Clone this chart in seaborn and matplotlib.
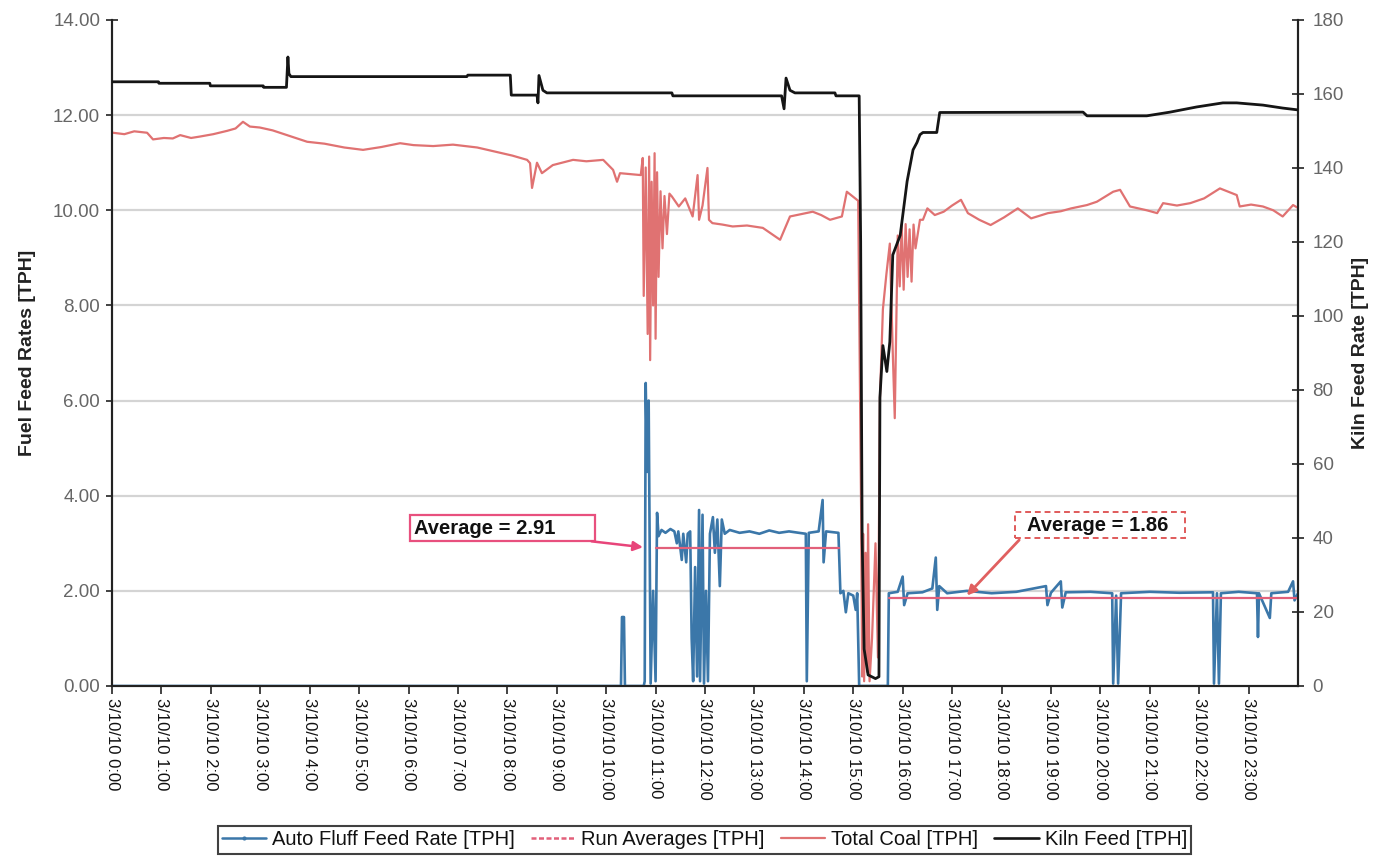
import matplotlib
matplotlib.use("Agg")
import matplotlib.pyplot as plt
from matplotlib.lines import Line2D
from matplotlib.patches import Rectangle
import seaborn as sns
import pandas as pd

# ---- data (hours after midnight, 3/10/10) ----
hours = list(range(24))
tick_labels = [f"3/10/10 {h}:00" for h in hours]

# Kiln feed, right axis [TPH]
kiln_t = [0.0, 0.94, 0.95, 1.98, 1.99, 3.06, 3.07, 3.53, 3.56, 3.58, 3.62, 7.18, 7.2,
          8.06, 8.08, 8.6, 8.62, 8.64, 8.72, 8.8, 11.33, 11.35, 13.55, 13.6, 13.64,
          13.72, 13.82, 14.63, 14.65, 15.12, 15.15, 15.18, 15.22, 15.3, 15.45, 15.52,
          15.54, 15.6, 15.68, 15.74, 15.8, 15.95, 16.09, 16.21, 16.29, 16.35, 16.41,
          16.69, 16.75, 19.65, 19.73, 20.94, 21.41, 21.95, 22.48, 22.76, 23.29, 23.69, 24.0]
kiln_v = [163.3, 163.3, 162.9, 162.9, 162.2, 162.2, 161.8, 161.8, 170.0, 165.5, 164.7,
          164.7, 165.1, 165.1, 159.7, 159.7, 157.6, 165.0, 161.0, 160.3, 160.3, 159.5,
          159.5, 156.0, 164.3, 161.0, 160.3, 160.3, 159.5, 159.5, 120.0, 40.0, 10.0,
          3.0, 2.0, 2.5, 78.0, 92.0, 85.0, 93.0, 116.5, 121.8, 136.4, 144.9, 146.9,
          149.0, 149.6, 149.6, 155.0, 155.1, 154.1, 154.1, 155.1, 156.5, 157.6, 157.6,
          157.0, 156.2, 155.7]

# Total coal, left axis [TPH]
coal_t = [0.02, 0.25, 0.45, 0.71, 0.83, 1.05, 1.23, 1.38, 1.6, 1.78, 2.05, 2.33, 2.5,
          2.65, 2.79, 2.99, 3.25, 3.54, 3.95, 4.3, 4.7, 5.08, 5.45, 5.83, 6.1, 6.5,
          6.9, 7.39, 7.85, 8.1, 8.4, 8.46, 8.5, 8.6, 8.7, 8.92, 9.33, 9.6, 9.94, 10.14,
          10.22, 10.28, 10.7, 10.74, 10.76, 10.8, 10.84, 10.87, 10.89, 10.92, 10.95,
          10.98, 11.0, 11.03, 11.06, 11.1, 11.14, 11.18, 11.23, 11.28, 11.33, 11.47,
          11.6, 11.75, 11.85, 11.88, 11.95, 12.05, 12.08, 12.15, 12.35, 12.56, 12.85,
          13.17, 13.52, 13.72, 13.95, 14.18, 14.35, 14.53, 14.77, 14.87, 14.99, 15.1,
          15.16, 15.18, 15.2, 15.22, 15.25, 15.28, 15.3, 15.33, 15.38, 15.45, 15.5,
          15.54, 15.6, 15.67, 15.74, 15.8, 15.84, 15.88, 15.9, 15.94, 15.98, 16.02,
          16.06, 16.1, 16.14, 16.18, 16.22, 16.26, 16.35, 16.41, 16.5, 16.65, 16.83,
          17.0, 17.18, 17.32, 17.55, 17.78, 18.05, 18.33, 18.6, 18.94, 19.2, 19.41,
          19.73, 19.93, 20.26, 20.4, 20.6, 20.94, 21.15, 21.27, 21.55, 21.82, 22.1,
          22.42, 22.76, 22.82, 23.05, 23.29, 23.5, 23.69, 23.9, 24.0]
coal_v = [11.63, 11.6, 11.66, 11.63, 11.49, 11.52, 11.51, 11.58, 11.52, 11.55, 11.6,
          11.67, 11.72, 11.86, 11.76, 11.74, 11.68, 11.58, 11.44, 11.4, 11.32, 11.27,
          11.33, 11.41, 11.37, 11.35, 11.38, 11.32, 11.21, 11.15, 11.06, 10.99, 10.47,
          11.0, 10.78, 10.95, 11.06, 11.03, 11.06, 10.85, 10.6, 10.78, 10.74, 11.1, 8.2,
          10.9, 7.4, 11.13, 6.85, 10.6, 8.0, 11.2, 7.3, 10.8, 8.6, 10.4, 9.2, 10.3, 9.5,
          10.35, 10.29, 10.08, 10.25, 9.87, 10.74, 9.8, 10.1, 10.89, 9.8, 9.73, 9.7,
          9.66, 9.68, 9.63, 9.38, 9.87, 9.92, 9.97, 9.9, 9.8, 9.87, 10.39, 10.29, 10.2,
          3.6, 0.2, 3.2, 0.1, 2.8, 0.3, 3.4, 0.1, 1.0, 3.0, 0.6, 6.04, 7.92, 8.65, 9.3,
          7.0, 5.63, 8.2, 9.47, 8.4, 9.7, 8.33, 9.71, 8.6, 9.6, 8.5, 9.7, 9.2, 9.8, 9.8,
          10.04, 9.9, 9.97, 10.1, 10.22, 9.94, 9.8, 9.69, 9.85, 10.04, 9.83, 9.94, 9.98,
          10.04, 10.11, 10.18, 10.39, 10.43, 10.08, 10.0, 9.94, 10.15, 10.1, 10.15,
          10.25, 10.46, 10.32, 10.08, 10.12, 10.08, 10.0, 9.87, 10.11, 10.05]

# Auto fluff feed rate, left axis [TPH]
fluff_t = [0.0, 10.3, 10.32, 10.36, 10.38, 10.76, 10.78, 10.8, 10.83, 10.86, 10.9,
           10.95, 11.0, 11.03, 11.06, 11.12, 11.2, 11.3, 11.38, 11.43, 11.46, 11.53,
           11.56, 11.62, 11.65, 11.7, 11.73, 11.76, 11.8, 11.84, 11.88, 11.9, 11.95,
           11.98, 12.02, 12.06, 12.1, 12.16, 12.2, 12.25, 12.3, 12.34, 12.4, 12.5, 12.7,
           12.9, 13.1, 13.3, 13.5, 13.7, 13.9, 14.04, 14.06, 14.1, 14.3, 14.38, 14.4,
           14.45, 14.7, 14.74, 14.8, 14.85, 14.9, 15.0, 15.05, 15.08, 15.12, 15.7, 15.72,
           15.9, 16.0, 16.03, 16.1, 16.4, 16.6, 16.67, 16.7, 16.74, 16.9, 17.3, 17.8,
           18.3, 18.9, 18.93, 19.0, 19.2, 19.23, 19.3, 19.8, 20.24, 20.26, 20.32, 20.36,
           20.42, 21.0, 21.6, 22.28, 22.3, 22.36, 22.4, 22.44, 22.8, 23.17, 23.19, 23.21,
           23.43, 23.46, 23.8, 23.9, 23.93, 24.0]
fluff_v = [0.0, 0.0, 1.45, 1.45, 0.0, 0.0, 0.1, 6.37, 4.5, 6.0, 0.05, 2.0, 0.1, 3.64,
           3.15, 3.28, 3.22, 3.3, 3.25, 3.0, 3.25, 2.65, 3.2, 2.6, 3.2, 3.25, 1.0, 0.1,
           2.5, 0.2, 3.7, 0.1, 3.6, 0.05, 2.0, 0.1, 3.2, 3.55, 2.8, 3.5, 2.1, 3.5, 3.2,
           3.28, 3.22, 3.25, 3.2, 3.27, 3.22, 3.25, 3.22, 3.2, 0.1, 3.22, 3.25, 3.91, 2.6,
           3.25, 3.22, 1.95, 2.0, 1.55, 1.95, 1.9, 1.6, 1.95, 0.0, 0.0, 1.95, 1.98, 2.3,
           1.7, 1.95, 1.97, 2.05, 2.7, 1.6, 2.1, 1.95, 2.0, 1.95, 1.98, 2.1, 1.7, 1.96,
           2.2, 1.65, 1.97, 1.98, 1.95, 0.05, 1.9, 0.05, 1.95, 1.98, 1.96, 1.97, 0.05,
           1.95, 0.05, 1.95, 1.98, 1.95, 1.03, 1.95, 1.43, 1.95, 1.98, 2.2, 1.8, 1.95]

# Run averages [TPH]
run1_t = [11.0, 14.72]
run1_avg = 2.91
run2_t = [15.72, 24.0]
run2_avg = 1.86

# ---- styling ----
C_FLUFF = "#3b77a9"
C_RUN = "#e2607a"
C_COAL = "#e07272"
C_KILN = "#151515"
FONT = ["Liberation Sans", "DejaVu Sans"]

sns.set_theme(style="white")
plt.rcParams["font.family"] = FONT

fig = plt.figure(figsize=(13.92, 8.58), dpi=100)
ax = fig.add_axes([112 / 1392, 172 / 858, 1186 / 1392, 666 / 858])
ax2 = ax.twinx()

df_fluff = pd.DataFrame({"t": fluff_t, "v": fluff_v})
df_coal = pd.DataFrame({"t": coal_t, "v": coal_v})
df_kiln = pd.DataFrame({"t": kiln_t, "v": kiln_v})
df_run1 = pd.DataFrame({"t": run1_t, "v": [run1_avg] * len(run1_t)})
df_run2 = pd.DataFrame({"t": run2_t, "v": [run2_avg] * len(run2_t)})

sns.lineplot(data=df_coal, x="t", y="v", ax=ax, color=C_COAL, lw=1.6,
             estimator=None, sort=False, zorder=3)
sns.lineplot(data=df_fluff, x="t", y="v", ax=ax, color=C_FLUFF, lw=1.9,
             estimator=None, sort=False, zorder=4)
for d in (df_run1, df_run2):
    sns.lineplot(data=d, x="t", y="v", ax=ax, color=C_RUN, lw=1.6,
                 estimator=None, sort=False, zorder=5)
sns.lineplot(data=df_kiln, x="t", y="v", ax=ax2, color=C_KILN, lw=2.0,
             estimator=None, sort=False, zorder=6)

# axes ranges and ticks
ax.set_xlim(0, 24)
ax.set_ylim(0, 14)
ax2.set_ylim(0, 180)
ax.set_xticks(hours)
ax.set_xticklabels(tick_labels, rotation=270, fontsize=12, color="#111111")
ax.set_yticks([0, 2, 4, 6, 8, 10, 12, 14])
ax.set_yticklabels([f"{v:.2f}" for v in [0, 2, 4, 6, 8, 10, 12, 14]],
                   fontsize=13.5, color="#666666")
ax2.set_yticks(range(0, 181, 20))
ax2.set_yticklabels([str(v) for v in range(0, 181, 20)], fontsize=13.5, color="#666666")
ax.set_xlabel("")
ax.set_ylabel("Fuel Feed Rates [TPH]", fontsize=14, fontweight="bold", labelpad=12,
              color="#222222")
ax2.set_ylabel("Kiln Feed Rate [TPH]", fontsize=14, fontweight="bold", labelpad=6,
               color="#222222")

ax.tick_params(axis="y", direction="inout", length=9, width=1.2, color="#222222", pad=4)
ax2.tick_params(axis="y", direction="inout", length=9, width=1.2, color="#222222", pad=6)
ax.tick_params(axis="x", direction="out", length=6, width=1.2, color="#222222", pad=3,
               bottom=True)

# horizontal gridlines
for g in [2, 4, 6, 8, 10, 12]:
    ax.axhline(g, color="#d4d4d4", lw=1.6, zorder=1)

for a in (ax, ax2):
    a.spines["top"].set_visible(False)
    for s in ("left", "right", "bottom"):
        a.spines[s].set_color("#222222")
        a.spines[s].set_linewidth(1.5)
ax.patch.set_alpha(0)

# annotation boxes for the run averages
ax2.add_patch(Rectangle((0.2513, 0.2177), 0.156, 0.0391, transform=ax.transAxes,
                        fill=True, fc="white", ec="#e8507e", lw=1.6, zorder=7))
ax2.text(0.2545, 0.2372, f"Average = {run1_avg:.2f}", transform=ax.transAxes,
         fontsize=14.5, fontweight="bold", color="#111111", va="center", ha="left",
         zorder=8)
ax2.annotate("", xy=(10.8, run1_avg * 180 / 14), xycoords="data",
             xytext=(0.402, 0.2177), textcoords=ax.transAxes,
             arrowprops=dict(arrowstyle="-|>", color="#e8457a", lw=1.8,
                             mutation_scale=14), zorder=8)

ax2.add_patch(Rectangle((0.7614, 0.2222), 0.1433, 0.0391, transform=ax.transAxes,
                        fill=True, fc="white", ec="#e05a5a", lw=1.4, ls=(0, (3, 2)),
                        zorder=7))
ax2.text(0.7715, 0.2417, f"Average = {run2_avg:.2f}", transform=ax.transAxes,
         fontsize=14.5, fontweight="bold", color="#111111", va="center", ha="left",
         zorder=8)
ax2.annotate("", xy=(17.26, run2_avg * 180 / 14), xycoords="data",
             xytext=(0.7665, 0.2222), textcoords=ax.transAxes,
             arrowprops=dict(arrowstyle="-|>", color="#e06060", lw=2.0,
                             mutation_scale=14), zorder=8)

# legend
handles = [
    Line2D([], [], color=C_FLUFF, lw=1.8, marker=".", markersize=4),
    Line2D([], [], color=C_RUN, lw=1.8, ls=(0, (2, 1))),
    Line2D([], [], color=C_COAL, lw=1.6),
    Line2D([], [], color=C_KILN, lw=1.9),
]
labels = ["Auto Fluff Feed Rate [TPH]", "Run Averages [TPH]", "Total Coal [TPH]",
          "Kiln Feed [TPH]"]
leg = fig.legend(handles, labels, loc="center", bbox_to_anchor=(0.506, 0.021), ncol=4,
                 frameon=True, fancybox=False, edgecolor="#111111", fontsize=14.5,
                 handlelength=2.2, handletextpad=0.3, columnspacing=0.8,
                 borderpad=0.2)
leg.get_frame().set_linewidth(1.5)
for t in leg.get_texts():
    t.set_color("#111111")

fig.savefig("out.png", dpi=100, facecolor="white")
